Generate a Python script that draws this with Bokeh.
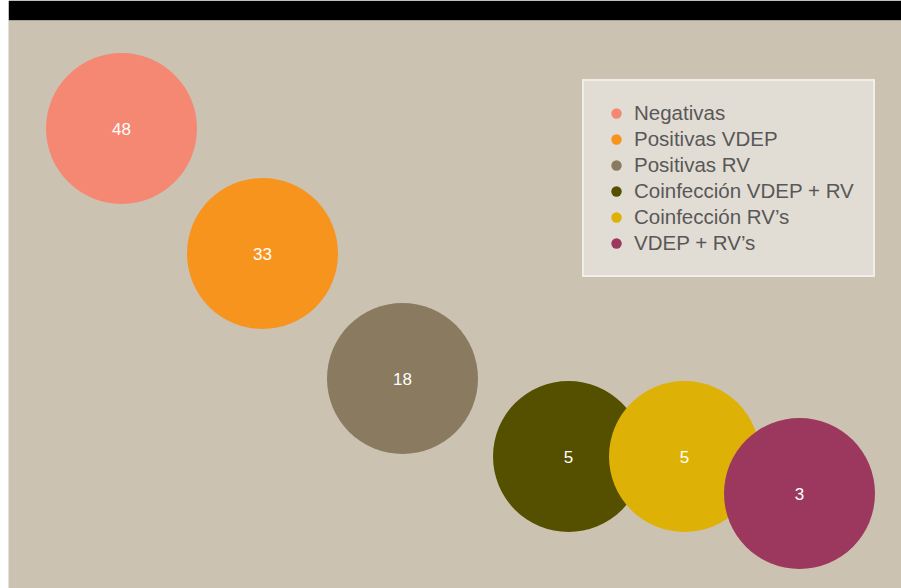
from bokeh.plotting import figure
from bokeh.models import ColumnDataSource, Range1d, Legend, LegendItem, LabelSet, Spacer
from bokeh.layouts import row
from bokeh.core.properties import value
from bokeh.embed import file_html
from bokeh.resources import INLINE

categories = ["Negativas", "Positivas VDEP", "Positivas RV",
              "Coinfección VDEP + RV", "Coinfección RV’s", "VDEP + RV’s"]
values = [48, 33, 18, 5, 5, 3]
labels = [str(v) for v in values]
# bubble centre positions (layout units)
pos_x = [113, 254, 394, 560, 676, 791]
pos_y = [108, 233, 358, 436, 436, 473]
colors = ["#F58873", "#F7941E", "#8A7B60", "#555000", "#DEB107", "#9C385D"]

p = figure(width=893, height=588, output_backend="svg", toolbar_location=None,
           x_range=Range1d(0, 893), y_range=Range1d(568, 0),
           min_border_top=20, min_border_left=0, min_border_right=0, min_border_bottom=0,
           border_fill_color="black", background_fill_color="#CCC2B1",
           outline_line_color=None)
p.axis.visible = False
p.grid.visible = False

src = ColumnDataSource(dict(x=pos_x, y=pos_y, c=colors, lab=labels, cat=categories))

items = []
for i, cat in enumerate(categories):
    s = ColumnDataSource(dict(x=[pos_x[i]], y=[pos_y[i]]))
    r = p.scatter("x", "y", source=s, size=151, fill_color=colors[i], line_color=None)
    items.append(LegendItem(label=cat, renderers=[r]))

p.add_layout(LabelSet(x="x", y="y", text="lab", source=src, text_color="white",
                      text_align="center", text_baseline="middle",
                      text_font=value("Liberation Sans"), text_font_size="17px"))

legend = Legend(items=items, location=(574, 311),
                label_text_font="Liberation Sans", label_text_font_size="20.5px",
                label_text_color="#585858", label_height=26, glyph_height=26,
                glyph_width=26, spacing=0, label_standoff=5, padding=19,
                border_line_color="white", border_line_width=2,
                background_fill_color="#E2DDD4", background_fill_alpha=1.0,
                margin=0)
p.add_layout(legend, "center")

layout = row(Spacer(width=8, height=588), p)
open("out.html", "w").write(file_html(layout, INLINE))
